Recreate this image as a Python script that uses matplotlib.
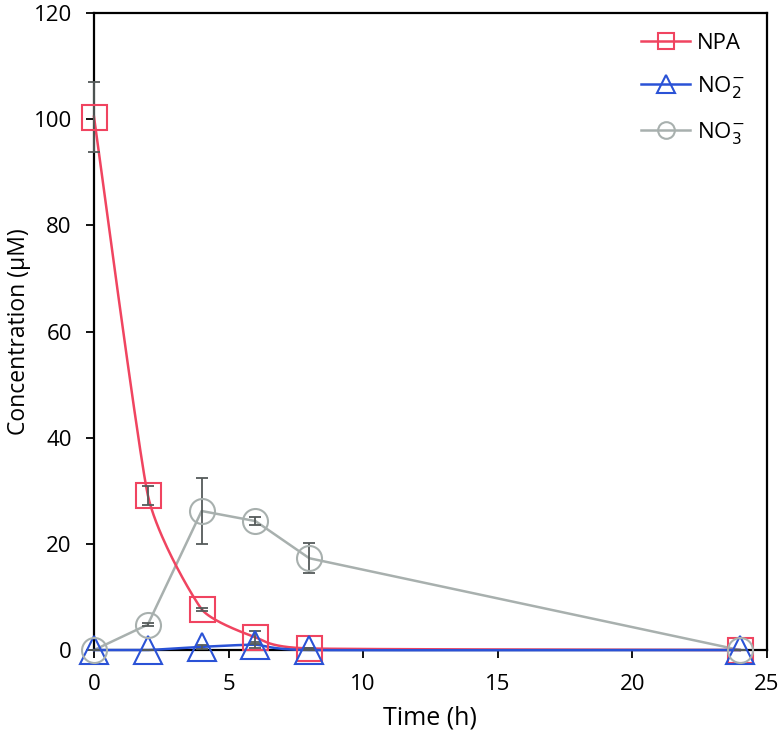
import numpy as np
import matplotlib
matplotlib.use("Agg")
import matplotlib.pyplot as plt
from matplotlib.lines import Line2D

plt.rcParams['font.family'] = ['Open Sans', 'DejaVu Sans']

time_h = [0, 2, 4, 6, 8, 24]
npa = [100.5, 29.2, 7.7, 2.4, 0.3, 0.0]
npa_err = [6.6, 1.8, 0.3, 1.2, 0.0, 0.0]
no2 = [0.0, 0.0, 0.6, 1.0, 0.0, 0.0]
no2_err = [0.0, 0.0, 0.4, 0.6, 0.0, 0.0]
no3 = [0.0, 4.8, 26.2, 24.3, 17.3, 0.0]
no3_err = [0.0, 0.3, 6.2, 0.8, 2.8, 0.0]

c_npa = '#f04460'
c_no2 = '#2a52d6'
c_no3 = '#a8b0ae'
c_err = '#555b5a'


def smooth(x, y, k=1.0 / 12, n=40):
    """Bezier smoothing through the points (Excel-like smoothed line)."""
    P = np.column_stack([np.asarray(x, float), np.asarray(y, float)])
    out = []
    for i in range(len(P) - 1):
        p0 = P[i - 1] if i > 0 else P[i]
        p1, p2 = P[i], P[i + 1]
        p3 = P[i + 2] if i + 2 < len(P) else P[i + 1]
        c1 = p1 + (p2 - p0) * k
        c2 = p2 - (p3 - p1) * k
        t = np.linspace(0, 1, n)[:, None]
        seg = ((1 - t) ** 3) * p1 + 3 * ((1 - t) ** 2) * t * c1 \
            + 3 * (1 - t) * t ** 2 * c2 + t ** 3 * p2
        out.append(seg)
    out = np.vstack(out)
    return out[:, 0], out[:, 1]


fig = plt.figure(figsize=(7.8, 7.35), dpi=100)
ax = fig.add_axes([0.1205, 0.1156, 0.8625, 0.8664])

# lines
sx, sy = smooth(time_h, npa)
ax.plot(sx, sy, color=c_npa, lw=1.8, zorder=3, clip_on=False)
sx, sy = smooth(time_h, no2)
ax.plot(sx, sy, color=c_no2, lw=1.8, zorder=3, clip_on=False)
ax.plot(time_h, no3, color=c_no3, lw=1.8, zorder=2, clip_on=False)

# error bars
for y, e in [(npa, npa_err), (no2, no2_err), (no3, no3_err)]:
    ax.errorbar(time_h, y, yerr=e, fmt='none', ecolor=c_err, elinewidth=1.3,
                capsize=4, capthick=1.3, zorder=4, clip_on=False)

# markers
ax.plot(time_h, npa, ls='none', marker='s', ms=18, mfc='none', mec=c_npa,
        mew=1.5, zorder=5, clip_on=False)
ax.plot(time_h, no2, ls='none', marker='^', ms=20, mfc='none', mec=c_no2,
        mew=1.5, zorder=5, clip_on=False)
ax.plot(time_h, no3, ls='none', marker='o', ms=18, mfc='none', mec=c_no3,
        mew=1.5, zorder=5, clip_on=False)

ax.set_xlim(0, 25)
ax.set_ylim(0, 120)
ax.set_xticks([0, 5, 10, 15, 20, 25])
ax.set_yticks([0, 20, 40, 60, 80, 100, 120])
ax.tick_params(direction='out', length=6, width=1.3, labelsize=16,
               colors='black')
ax.tick_params(axis='y', pad=10)
ax.tick_params(axis='x', pad=11)
for s in ax.spines.values():
    s.set_linewidth(1.6)
ax.set_xlabel('Time (h)', fontsize=18, labelpad=8)
ax.set_ylabel('Concentration (\u03bcM)', fontsize=16.5)
ax.yaxis.set_label_coords(-0.093, 0.5)

handles = [
    Line2D([], [], color=c_npa, lw=1.8, marker='s', ms=12, mfc='none', mec=c_npa, mew=1.5),
    Line2D([], [], color=c_no2, lw=1.8, marker='^', ms=13, mfc='none', mec=c_no2, mew=1.5),
    Line2D([], [], color=c_no3, lw=1.8, marker='o', ms=12, mfc='none', mec=c_no3, mew=1.5),
]
labels = ['NPA', 'NO$_2^{-}$', 'NO$_3^{-}$']
ax.legend(handles, labels, loc='upper right', frameon=False, fontsize=16,
          handlelength=2.2, handletextpad=0.3, labelspacing=0.9,
          borderaxespad=0.6, bbox_to_anchor=(1.0, 1.004))

fig.savefig('out.png', dpi=100)
